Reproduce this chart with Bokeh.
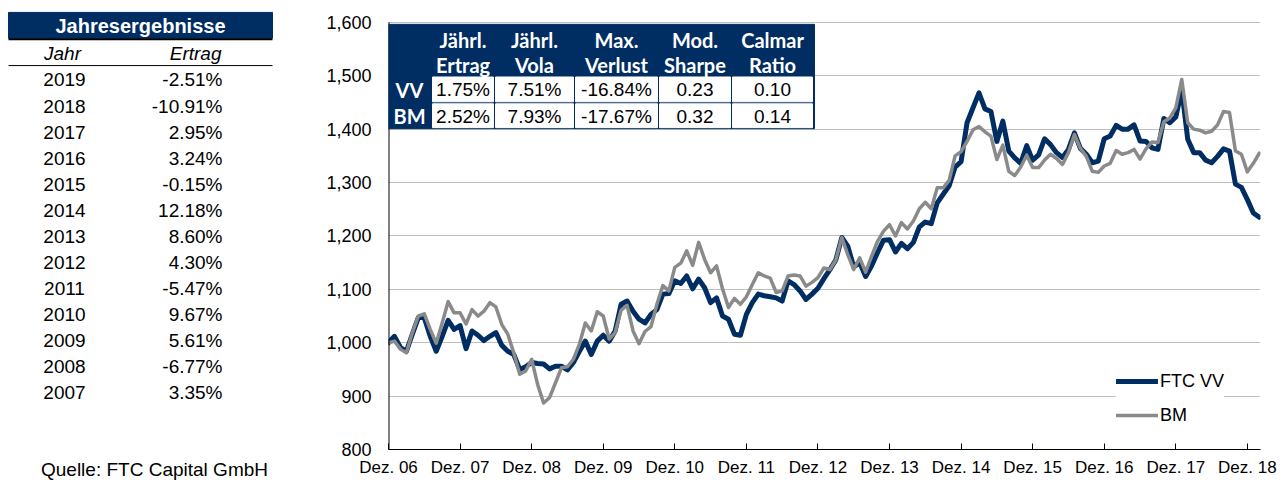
from bokeh.plotting import figure
from bokeh.layouts import row
from bokeh.models import Range1d, FixedTicker, NumeralTickFormatter
from bokeh.core.properties import value
from bokeh.embed import file_html
from bokeh.resources import INLINE

# ---------------- data ----------------
tick_labels = ["Dez. 06", "Dez. 07", "Dez. 08", "Dez. 09", "Dez. 10", "Dez. 11", "Dez. 12",
               "Dez. 13", "Dez. 14", "Dez. 15", "Dez. 16", "Dez. 17", "Dez. 18"]

vv = [1000, 1012, 991, 984, 1016, 1047, 1047, 1012, 984, 1012, 1042, 1025, 1032, 989, 1022, 1014,
      1004, 1012, 1019, 995, 984, 978, 950, 955, 963, 961, 960, 951, 956, 956, 949, 963, 984, 1003,
      978, 1003, 1014, 1003, 1022, 1072, 1078, 1059, 1044, 1037, 1053, 1062, 1091, 1092, 1116, 1111,
      1125, 1101, 1119, 1103, 1075, 1084, 1050, 1044, 1016, 1014, 1053, 1075, 1091, 1088, 1086, 1084,
      1078, 1116, 1109, 1097, 1081, 1091, 1102, 1120, 1137, 1155, 1197, 1181, 1142, 1150, 1124, 1144,
      1169, 1192, 1193, 1170, 1186, 1176, 1188, 1217, 1226, 1223, 1262, 1278, 1294, 1329, 1339, 1412,
      1440, 1468, 1438, 1433, 1377, 1415, 1359, 1346, 1336, 1369, 1342, 1352, 1382, 1371, 1356, 1347,
      1362, 1393, 1364, 1353, 1337, 1340, 1382, 1387, 1407, 1400, 1400, 1408, 1378, 1377, 1365, 1362,
      1420, 1412, 1423, 1474, 1381, 1356, 1356, 1342, 1337, 1349, 1363, 1359, 1297, 1291, 1268, 1243,
      1235]

bm = [1000, 1003, 988, 981, 1019, 1050, 1054, 1025, 999, 1037, 1077, 1056, 1056, 1035, 1062, 1050,
      1059, 1075, 1067, 1034, 1016, 981, 941, 947, 969, 922, 887, 897, 925, 953, 955, 969, 997, 1037,
      1022, 1058, 1050, 1007, 1019, 1061, 1070, 1022, 998, 1021, 1030, 1072, 1107, 1097, 1141, 1149,
      1172, 1145, 1188, 1156, 1131, 1144, 1101, 1066, 1083, 1072, 1086, 1109, 1131, 1125, 1121, 1094,
      1097, 1125, 1127, 1125, 1106, 1113, 1122, 1140, 1137, 1155, 1197, 1165, 1137, 1159, 1132, 1162,
      1190, 1209, 1221, 1200, 1225, 1213, 1228, 1251, 1263, 1251, 1290, 1290, 1304, 1350, 1358, 1377,
      1399, 1405, 1395, 1387, 1343, 1370, 1321, 1313, 1329, 1351, 1328, 1328, 1342, 1353, 1345, 1334,
      1356, 1390, 1364, 1349, 1321, 1319, 1331, 1336, 1360, 1353, 1356, 1362, 1344, 1363, 1376, 1375,
      1414, 1421, 1440, 1493, 1412, 1400, 1398, 1393, 1396, 1408, 1433, 1431, 1359, 1353, 1320, 1336,
      1355]

years = ["2019", "2018", "2017", "2016", "2015", "2014", "2013", "2012", "2011", "2010", "2009", "2008", "2007"]
yearly_returns = ["-2.51%", "-10.91%", "2.95%", "3.24%", "-0.15%", "12.18%", "8.60%", "4.30%",
                  "-5.47%", "9.67%", "5.61%", "-6.77%", "3.35%"]

stat_head1 = ["Jährl.", "Jährl.", "Max.", "Mod.", "Calmar"]
stat_head2 = ["Ertrag", "Vola", "Verlust", "Sharpe", "Ratio"]
stat_rows = ["VV", "BM"]
vv_stats = ["1.75%", "7.51%", "-16.84%", "0.23", "0.10"]
bm_stats = ["2.52%", "7.93%", "-17.67%", "0.32", "0.14"]

series_names = ["FTC VV", "BM"]
y_ticks = list(range(800, 1700, 100))

# ---------------- styles / layout ----------------
NAVY = "#002D62"
GRAY = "#8A8A8A"
FONT = "Liberation Sans"
HFONT = "Lato"
H = 482            # page height
BOTTOM = 30        # common bottom border (axis labels)
FRAME_H = H - BOTTOM   # frames run from page top to y=452
TOP_PAD = 22       # pixels between frame top and the 1,600 gridline

# ---------------- left table figure (page pixel coordinates) ----------------
LW = 308
left = figure(width=LW, height=H, x_range=Range1d(0, LW), y_range=Range1d(FRAME_H, 0),
              y_axis_type=None, output_backend="svg", toolbar_location=None,
              min_border_left=0, min_border_right=0, min_border_top=0, min_border_bottom=BOTTOM,
              outline_line_color=None)
left.grid.visible = False
left.xaxis.ticker = FixedTicker(ticks=[])
left.xaxis.axis_line_color = None
left.xaxis.major_tick_line_color = None
left.xaxis.minor_tick_line_color = None
left.xaxis.axis_label = "Quelle: FTC Capital GmbH"
left.xaxis.axis_label_text_font = FONT
left.xaxis.axis_label_text_font_style = "normal"
left.xaxis.axis_label_text_font_size = "19px"
left.xaxis.axis_label_text_color = "black"
left.xaxis.axis_label_standoff = 9

left.quad(left=[8], right=[272], top=[12], bottom=[38], color=NAVY)
left.text(x=[140], y=[25.5], text=["Jahresergebnisse"], text_align="center", text_baseline="middle",
          text_font=value(FONT), text_font_style="bold", text_font_size="20px", text_color="white")
left.segment(x0=[8], y0=[39], x1=[272], y1=[39], line_color="black", line_width=2)
left.text(x=[62], y=[53], text=["Jahr"], text_align="center", text_baseline="middle",
          text_font=value(FONT), text_font_style="italic", text_font_size="19px", text_color="black")
left.text(x=[221], y=[53], text=["Ertrag"], text_align="right", text_baseline="middle",
          text_font=value(FONT), text_font_style="italic", text_font_size="19px", text_color="black")
left.segment(x0=[8], y0=[65.5], x1=[272], y1=[65.5], line_color="black", line_width=1)

row_y = [80 + 26.25 * i for i in range(len(years))]
left.text(x=[64] * len(years), y=row_y, text=years, text_align="center", text_baseline="middle",
          text_font=value(FONT), text_font_size="19px", text_color="black")
left.text(x=[222] * len(years), y=row_y, text=yearly_returns, text_align="right", text_baseline="middle",
          text_font=value(FONT), text_font_size="19px", text_color="black")

# ---------------- main chart ----------------
FW = 872
y_min, y_max = y_ticks[0], y_ticks[-1]
units_per_px = (y_max - y_min) / (FRAME_H - TOP_PAD)
p = figure(width=975, height=H, x_range=Range1d(0, 146.2),
           y_range=Range1d(y_min, y_max + TOP_PAD * units_per_px),
           output_backend="svg", toolbar_location=None,
           min_border_left=80, min_border_right=23, min_border_top=0, min_border_bottom=BOTTOM,
           extra_x_ranges={"px": Range1d(0, FW)}, extra_y_ranges={"px": Range1d(FRAME_H, 0)},
           outline_line_color=None)

months = list(range(len(vv)))
p.line(months, vv, line_color=NAVY, line_width=5, line_join="round", line_cap="round",
       legend_label=series_names[0])
p.line(months, bm, line_color=GRAY, line_width=3.5, line_join="round", line_cap="round",
       legend_label=series_names[1])

# axes
tick_pos = [12 * i for i in range(len(tick_labels))]
p.xaxis.ticker = FixedTicker(ticks=tick_pos)
p.xaxis.major_label_overrides = {t: l for t, l in zip(tick_pos, tick_labels)}
p.xaxis.major_tick_in = 6
p.xaxis.major_tick_out = 0
p.xaxis.minor_tick_line_color = None
p.xaxis.axis_line_color = "black"
p.xaxis.major_tick_line_color = "black"
p.xaxis.major_label_text_font = FONT
p.xaxis.major_label_text_font_size = "17px"
p.xaxis.major_label_text_color = "black"
p.xaxis.major_label_standoff = 8

p.yaxis.ticker = FixedTicker(ticks=y_ticks)
p.yaxis.formatter = NumeralTickFormatter(format="0,0")
p.yaxis.major_tick_in = 0
p.yaxis.major_tick_out = 0
p.yaxis.minor_tick_line_color = None
p.yaxis.axis_line_color = None
p.yaxis.major_label_text_font = FONT
p.yaxis.major_label_text_font_size = "18px"
p.yaxis.major_label_text_color = "black"
p.yaxis.major_label_standoff = 17
# visible y axis line only over the tick span
p.segment(x0=[0], y0=[y_min], x1=[0], y1=[y_max], line_color="black", line_width=2)

p.xgrid.visible = False
p.ygrid.grid_line_color = "#7f7f7f"
p.ygrid.grid_line_dash = "1 1"
p.ygrid.grid_line_width = 1

# stats table (x: frame pixels, y: page pixels)
p.quad(left=[0], right=[426], top=[24], bottom=[129], color=NAVY, x_range_name="px", y_range_name="px")
cell_l = [44, 107, 187, 271, 344]
cell_r = [105, 185, 269, 342, 424]
row_top = [77, 104]
row_bot = [102, 128]
for rt, rb in zip(row_top, row_bot):
    p.quad(left=cell_l, right=cell_r, top=[rt] * 5, bottom=[rb] * 5, color="white",
           x_range_name="px", y_range_name="px")
col_c = [(a + b) / 2 for a, b in zip(cell_l, cell_r)]
hstyle = dict(text_align="center", text_baseline="middle", text_font=value(HFONT), text_font_style="bold",
              text_font_size="20px", text_color="white", x_range_name="px", y_range_name="px")
p.text(x=col_c, y=[40] * 5, text=stat_head1, **hstyle)
p.text(x=col_c, y=[65] * 5, text=stat_head2, **hstyle)
p.text(x=[21, 21], y=[90, 116.5], text=stat_rows, **hstyle)
vstyle = dict(text_align="center", text_baseline="middle", text_font=value(FONT),
              text_font_size="19px", text_color="black", x_range_name="px", y_range_name="px")
p.text(x=col_c, y=[90] * 5, text=vv_stats, **vstyle)
p.text(x=col_c, y=[116.5] * 5, text=bm_stats, **vstyle)

# legend
lg = p.legend[0]
lg.location = (728, 19)
lg.border_line_color = None
lg.background_fill_color = "white"
lg.background_fill_alpha = 1.0
lg.glyph_width = 42
lg.glyph_height = 30
lg.spacing = 4
lg.padding = 6
lg.margin = 0
lg.label_standoff = 2
lg.label_text_font = FONT
lg.label_text_font_size = "18px"
lg.label_text_color = "black"

layout = row(left, p)
open("out.html", "w").write(file_html(layout, INLINE))
